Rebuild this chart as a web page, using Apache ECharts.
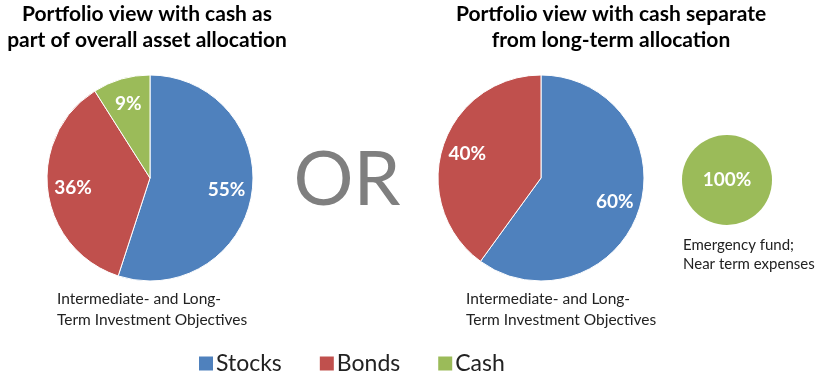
<!DOCTYPE html>
<html><head><meta charset="utf-8">
<script src="https://cdn.jsdelivr.net/npm/echarts@6/dist/echarts.min.js"></script>
<style>html,body{margin:0;padding:0;background:#fff}#c{width:824px;height:376px}</style>
</head><body><div id="c"></div>
<script>
const categories = ['Stocks', 'Bonds', 'Cash'];
const categoryColors = ['#4F81BD', '#C0504D', '#9BBB59'];
const overallNames = ['Stocks', 'Bonds', 'Cash'];
const overallValues = [55, 36, 9];
const longTermNames = ['Stocks', 'Bonds'];
const longTermValues = [60, 40];
const cashNames = ['Cash'];
const cashValues = [100];

const titleLeft = 'Portfolio view with cash as\npart of overall asset allocation';
const titleRight = 'Portfolio view with cash separate\nfrom long-term allocation';
const captionLongTerm = 'Intermediate- and Long-\nTerm Investment Objectives';
const captionCash = 'Emergency fund;\nNear term expenses';

const FONT = 'Lato';
const colorOf = n => categoryColors[categories.indexOf(n)];
const mk = (names, vals) => names.map((n, i) => ({name: n, value: vals[i], itemStyle: {color: colorOf(n)}}));
const mkT = (names, vals) => names.map((n, i) => ({name: n, value: vals[i], itemStyle: {color: 'rgba(0,0,0,0)'}}));

const labelStyle = {show: true, position: 'inside', formatter: '{c}%', color: '#fff', fontFamily: FONT, fontSize: 19, fontWeight: 'bold'};

function basePie(center, radius, data, extra) {
  return Object.assign({
    type: 'pie', center: center, radius: radius, startAngle: 90, clockwise: true,
    data: data, label: {show: false}, labelLine: {show: false},
    itemStyle: {borderColor: '#ffffff', borderWidth: 1},
    emphasis: {disabled: true}, animation: false
  }, extra || {});
}

const chart = echarts.init(document.getElementById('c'), null, {renderer: 'canvas'});
chart.setOption({
  backgroundColor: '#ffffff',
  animation: false,
  title: [
    {text: titleLeft, left: 147, top: 1, textAlign: 'center', padding: 0,
     textStyle: {fontFamily: FONT, fontSize: 21, fontWeight: 'bold', color: '#000', lineHeight: 26}},
    {text: titleRight, left: 611, top: 1, textAlign: 'center', padding: 0,
     textStyle: {fontFamily: FONT, fontSize: 21, fontWeight: 'bold', color: '#000', lineHeight: 26}},
    {text: 'OR', left: 347, top: 143, textAlign: 'center', padding: 0,
     textStyle: {fontFamily: FONT, fontSize: 75, fontWeight: 'normal', color: '#7f7f7f'}},
    {text: captionLongTerm, left: 57, top: 288, padding: 0,
     textStyle: {fontFamily: FONT, fontSize: 15.5, fontWeight: 'normal', color: '#222', lineHeight: 21}},
    {text: captionLongTerm, left: 466, top: 288, padding: 0,
     textStyle: {fontFamily: FONT, fontSize: 15.5, fontWeight: 'normal', color: '#222', lineHeight: 21}},
    {text: captionCash, left: 683, top: 236, padding: 0,
     textStyle: {fontFamily: FONT, fontSize: 15, fontWeight: 'normal', color: '#222', lineHeight: 19}}
  ],
  legend: {
    data: categories, left: 197, top: 352, padding: 0, icon: 'rect',
    itemWidth: 16, itemHeight: 16, itemGap: 36, selectedMode: false,
    textStyle: {fontFamily: FONT, fontSize: 23, color: '#222', padding: [0, 0, 0, -3]}
  },
  series: [
    basePie(['150', '178'], [0, 103], mk(overallNames, overallValues)),
    basePie(['150', '178'], [46, 103], mkT(overallNames, overallValues),
      {silent: true, itemStyle: {borderWidth: 0}, label: labelStyle, legendHoverLink: false}),
    basePie(['541', '178'], [0, 103], mk(longTermNames, longTermValues)),
    basePie(['541', '178'], [46, 103], mkT(longTermNames, longTermValues),
      {silent: true, itemStyle: {borderWidth: 0}, label: labelStyle, legendHoverLink: false}),
    basePie(['727', '180'], [0, 45], mk(cashNames, cashValues),
      {itemStyle: {borderWidth: 0}, label: Object.assign({}, labelStyle, {position: 'center'})})
  ]
});
</script></body></html>
